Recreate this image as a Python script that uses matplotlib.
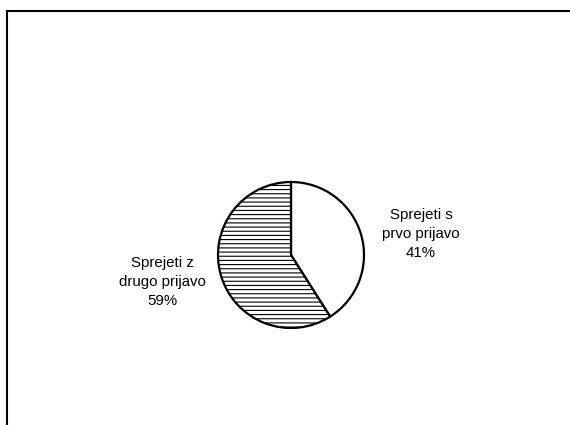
import matplotlib
matplotlib.use("Agg")
import matplotlib.pyplot as plt
from matplotlib.patches import Rectangle

plt.rcParams['font.family'] = ['Liberation Sans', 'DejaVu Sans']
plt.rcParams['hatch.linewidth'] = 0.8
plt.rcParams['hatch.color'] = '#333333'

categories = ["Sprejeti s\nprvo prijavo", "Sprejeti z\ndrugo prijavo"]
values = [41, 59]
hatches = ["", "----"]

W, H = 570, 425
fig = plt.figure(figsize=(W / 100, H / 100), dpi=100)
ax = fig.add_axes([0, 0, 1, 1])

wedges, _ = ax.pie(values, startangle=90, counterclock=False, center=(291, H - 255), radius=73,
                   colors=['white', 'white'],
                   wedgeprops=dict(edgecolor='black', linewidth=1.6))
for w, h in zip(wedges, hatches):
    w.set_hatch(h)

ax.set_xlim(0, W)
ax.set_ylim(0, H)
ax.set_aspect('equal')
ax.axis('off')

# outer border (figure pixel coordinates)
fig.add_artist(Rectangle((7 / W, 0 - 0.05), 1.1, (H - 11) / H + 0.05, transform=fig.transFigure,
                         fill=False, edgecolor='black', linewidth=1.5))

label_pos = [(421, 234), (162, 282)]
for cat, v, (x, y) in zip(categories, values, label_pos):
    ax.text(x, H - y, f"{cat}\n{v}%", ha='center', va='center', fontsize=10.8, linespacing=1.42)

fig.savefig("out.png", dpi=100)
